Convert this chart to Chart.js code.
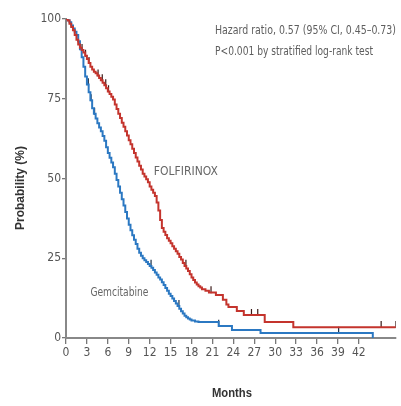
<!DOCTYPE html>
<html><head><meta charset="utf-8">
<script src="https://cdn.jsdelivr.net/npm/chart.js@4"></script>
<style>html,body{margin:0;padding:0;background:#fff}#wrap{width:401px;height:406px}</style>
</head><body><div id="wrap"><canvas id="c" width="401" height="406"></canvas></div>
<script>
// Month axis ticks
const monthTicks = [0,3,6,9,12,15,18,21,24,27,30,33,36,39,42];
const probTicks = [0,25,50,75,100];

// FOLFIRINOX (red) Kaplan-Meier: time (months) and survival (%)
const folfT = [0,0.25,0.5,0.75,1,1.25,1.5,1.75,2,2.25,2.5,2.75,3,3.25,3.5,3.75,4,4.25,4.5,4.75,5,5.25,5.5,5.75,6,6.25,6.5,6.75,7,7.25,7.5,7.75,8,8.25,8.5,8.75,9,9.25,9.5,9.75,10,10.25,10.5,10.75,11,11.25,11.5,11.75,12,12.25,12.5,12.75,13,13.25,13.5,13.75,14,14.25,14.5,14.75,15,15.25,15.5,15.75,16,16.25,16.5,16.75,17,17.25,17.5,17.75,18,18.25,18.5,18.75,19,19.25,19.5,20,20.5,21.5,22.5,23,23.3,24.5,25.5,28.5,32.6,47.3];
const folfS = [100,99.5,98.5,97.5,96.5,95,93.5,92,91,90.3,89.5,88.5,87.5,86.2,85,84.2,83.5,83,82.3,81.5,80.8,80,79.2,78.3,77.3,76.5,75.6,74.8,73.2,71.8,70.3,69,67.5,66.2,64.8,63.5,62,60.7,59.3,58,56.6,55.3,54,52.8,51.5,50.6,49.8,48.8,47.5,46.5,45.5,44.5,42.5,40,37,34.5,33.3,32.3,31.3,30.5,29.7,28.8,28,27.2,26.4,25.4,24.6,23.5,22.6,21.8,21,20,19,18.2,17.4,16.8,16.2,15.8,15.3,14.8,14.3,13.5,12,10.5,9.7,8.5,7.2,5.0,3.4,3.4];
const folfCensor = [2.3,2.8,3.3,4.6,5.2,5.7,6.1,17.2,20.8,26.6,27.5,45.2,47.3];

// Gemcitabine (blue)
const gemT = [0,0.25,0.5,0.75,1,1.25,1.5,1.75,2,2.25,2.5,2.75,3,3.25,3.5,3.75,4,4.25,4.5,4.75,5,5.25,5.5,5.75,6,6.25,6.5,6.75,7,7.25,7.5,7.75,8,8.25,8.5,8.75,9,9.25,9.5,9.75,10,10.25,10.5,10.75,11,11.25,11.5,11.75,12,12.25,12.5,12.75,13,13.25,13.5,13.75,14,14.25,14.5,14.75,15,15.25,15.5,15.75,16,16.25,16.5,16.75,17,17.25,17.5,17.75,18,18.5,19,21.9,23.8,27.9,44];
const gemS = [100,99.6,99,98,97,96,95,93,90.5,88,85,82,79.5,77,74.5,72,70.3,68.8,67.3,66,64.8,63.3,61.8,59.8,58,56.5,55,53.5,51.5,49.5,47.5,45.5,43.5,41.5,39.5,37.5,35.5,33.8,32.2,30.8,29.5,28,26.7,25.8,25,24.4,23.8,23.2,22.6,22,21.3,20.5,19.8,19,18.3,17.5,16.6,15.7,14.8,13.9,13.2,12.4,11.6,10.8,10,9.2,8.4,7.7,7,6.5,6.1,5.8,5.5,5.2,5.0,3.8,2.5,1.6,0];
const gemCensor = [3.2,3.6,4.1,12.2,16.2,21.9,39.1];

function stepVal(T,S,t){let v=S[0];for(let i=0;i<T.length;i++){if(T[i]<=t)v=S[i];}return v;}
const pts=(T,S)=>T.map((t,i)=>({x:t,y:S[i]}));
const cens=(C,T,S)=>C.map(t=>({x:t,y:stepVal(T,S,t)+0.8}));

const RED='#c4342d', BLUE='#2b78c2';
const labelFont = "'Liberation Sans Narrow','DejaVu Sans Condensed','Liberation Sans',sans-serif";

const textPlugin = {
  id:'texts',
  afterDraw(chart){
    const ctx=chart.ctx, xs=chart.scales.x, ys=chart.scales.y;
    ctx.save();
    ctx.fillStyle='#5e5e5e';
    ctx.font="12px "+labelFont;
    ctx.textBaseline='middle';
    ctx.textAlign='left';
    ctx.fillText('Hazard ratio, 0.57 (95% CI, 0.45\u20130.73)',215,31,181);
    ctx.fillText('P<0.001 by stratified log-rank test',215,52,158);
    ctx.fillStyle='#666';
    ctx.fillText('FOLFIRINOX',xs.getPixelForValue(12.6),ys.getPixelForValue(52),65);
    ctx.fillText('Gemcitabine',xs.getPixelForValue(3.5),ys.getPixelForValue(14),58);
    ctx.fillStyle='#333';
    ctx.font="bold 12px 'Liberation Sans',Arial,sans-serif";
    ctx.textAlign='center';
    ctx.fillText('Months',232,394,40);
    ctx.translate(21,188);
    ctx.rotate(-Math.PI/2);
    ctx.fillText('Probability (%)',0,0,112);
    ctx.restore();
  }
};

new Chart(document.getElementById('c'),{
  type:'line',
  data:{datasets:[
    {label:'FOLFIRINOX',data:pts(folfT,folfS),borderColor:RED,borderWidth:2,stepped:true,pointRadius:0,fill:false},
    {label:'Gemcitabine',data:pts(gemT,gemS),borderColor:BLUE,borderWidth:2,stepped:true,pointRadius:0,fill:false},
    {type:'scatter',data:cens(folfCensor,folfT,folfS),pointStyle:'line',rotation:90,radius:3.5,borderWidth:1.2,borderColor:'#3a1a18',showLine:false},
    {type:'scatter',data:cens(gemCensor,gemT,gemS),pointStyle:'line',rotation:90,radius:3.5,borderWidth:1.2,borderColor:'#1c2f45',showLine:false}
  ]},
  options:{
    responsive:false,animation:false,
    layout:{padding:{top:19,right:3,left:0,bottom:0}},
    plugins:{legend:{display:false},tooltip:{enabled:false}},
    scales:{
      x:{type:'linear',min:0,max:47.3,
        afterBuildTicks(s){s.ticks=monthTicks.map(v=>({value:v}));},
        afterFit(s){s.height=68;},
        grid:{drawOnChartArea:false,drawTicks:true,tickLength:6,color:'#777',lineWidth:1.3},
        border:{display:true,color:'#888',width:2},
        ticks:{color:'#555',font:{family:labelFont,size:12},padding:2,maxRotation:0,autoSkip:false}
      },
      y:{min:0,max:100,
        afterBuildTicks(s){s.ticks=probTicks.map(v=>({value:v}));},
        afterFit(s){s.width=66;},
        grid:{drawOnChartArea:false,drawTicks:true,tickLength:4,color:'#777',lineWidth:1.3},
        border:{display:true,color:'#888',width:2},
        ticks:{color:'#555',font:{family:labelFont,size:12},padding:1}
      }
    }
  },
  plugins:[textPlugin]
});
</script></body></html>
